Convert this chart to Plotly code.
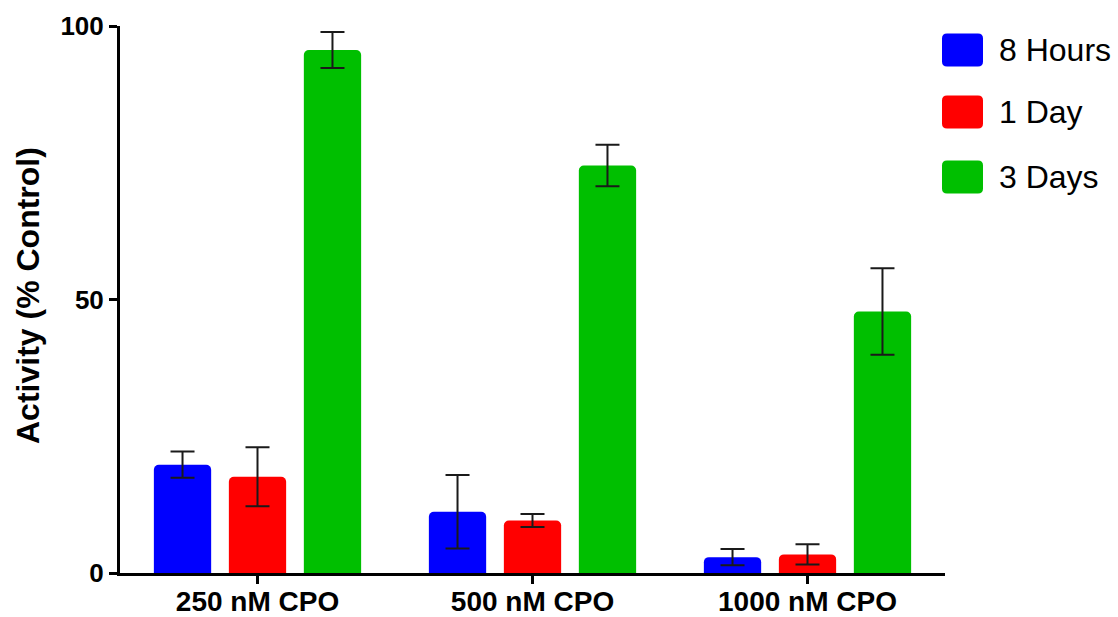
import plotly.graph_objects as go

categories = ["250 nM CPO", "500 nM CPO", "1000 nM CPO"]
series_names = ["8 Hours", "1 Day", "3 Days"]
hours8 = [19.8, 11.2, 2.9]
hours8_err = [2.4, 6.7, 1.5]
day1 = [17.6, 9.6, 3.4]
day1_err = [5.4, 1.2, 1.85]
days3 = [95.6, 74.5, 47.8]
days3_err = [3.3, 3.8, 7.9]
colors = ["#0000FF", "#FF0000", "#00BF00"]
y_ticks = [0, 50, 100]

values = [hours8, day1, days3]
errors = [hours8_err, day1_err, days3_err]

W, H = 1118, 617
L, R, T, B = 120, 173, 26, 44
pw, ph = W - L - R, H - T - B


def px2paper_x(px):
    return (px - L) / pw


def px2paper_y(py):
    return (H - B - py) / ph


fig = go.Figure()
for name, vals, errs, col in zip(series_names, values, errors, colors):
    fig.add_trace(go.Bar(
        x=categories, y=vals, name=name,
        marker=dict(color=col, line=dict(width=0)),
        error_y=dict(type="data", array=errs, visible=True,
                     color="#1a1a1a", thickness=2, width=12),
        showlegend=False,
    ))

# manual legend (large rounded swatches)
leg_centers_y = [50, 112, 177]
w2, h2, r = 20.5, 16.5, 5
path = (f"M {-w2+r},{-h2} L {w2-r},{-h2} Q {w2},{-h2} {w2},{-h2+r} "
        f"L {w2},{h2-r} Q {w2},{h2} {w2-r},{h2} L {-w2+r},{h2} "
        f"Q {-w2},{h2} {-w2},{h2-r} L {-w2},{-h2+r} Q {-w2},{-h2} {-w2+r},{-h2} Z")
shapes = []
annotations = []
for name, col, cy in zip(series_names, colors, leg_centers_y):
    shapes.append(dict(type="path", xref="paper", yref="paper",
                       xsizemode="pixel", ysizemode="pixel",
                       xanchor=px2paper_x(962.5), yanchor=px2paper_y(cy),
                       path=path, fillcolor=col, line=dict(width=0)))
    annotations.append(dict(x=px2paper_x(997), y=px2paper_y(cy), xref="paper", yref="paper",
                            text=name, showarrow=False, xanchor="left", yanchor="middle",
                            font=dict(family="Liberation Sans, Arial", size=32, color="black")))

annotations.append(dict(x=px2paper_x(28), y=px2paper_y(296), xref="paper", yref="paper",
                        text="<b>Activity (% Control)</b>", textangle=-90, showarrow=False,
                        xanchor="center", yanchor="middle",
                        font=dict(family="Liberation Sans, Arial", size=32, color="black")))

fig.update_layout(
    width=W, height=H,
    margin=dict(l=L, r=R, t=T, b=B, pad=0),
    paper_bgcolor="white", plot_bgcolor="white",
    barmode="group", bargap=0.182, bargroupgap=0.236,
    barcornerradius=5,
    shapes=shapes, annotations=annotations,
    font=dict(family="Liberation Sans, Arial", color="black"),
)
fig.update_xaxes(
    range=[-0.5, 2.5], showgrid=False, zeroline=False, automargin=False,
    showline=True, linecolor="black", linewidth=3,
    ticks="outside", ticklen=8, tickwidth=3, tickcolor="black",
    ticklabelstandoff=-7,
    tickfont=dict(family="Liberation Sans, Arial", size=28, color="black", weight="bold"),
)
fig.update_yaxes(
    range=[0, 100], tickvals=y_ticks, ticktext=[str(v) for v in y_ticks],
    showgrid=False, zeroline=False, automargin=False,
    showline=True, linecolor="black", linewidth=3,
    ticks="outside", ticklen=8, tickwidth=3, tickcolor="black",
    tickfont=dict(family="Liberation Sans, Arial", size=26, color="black", weight="bold"),
)

fig.write_html("out.html")
